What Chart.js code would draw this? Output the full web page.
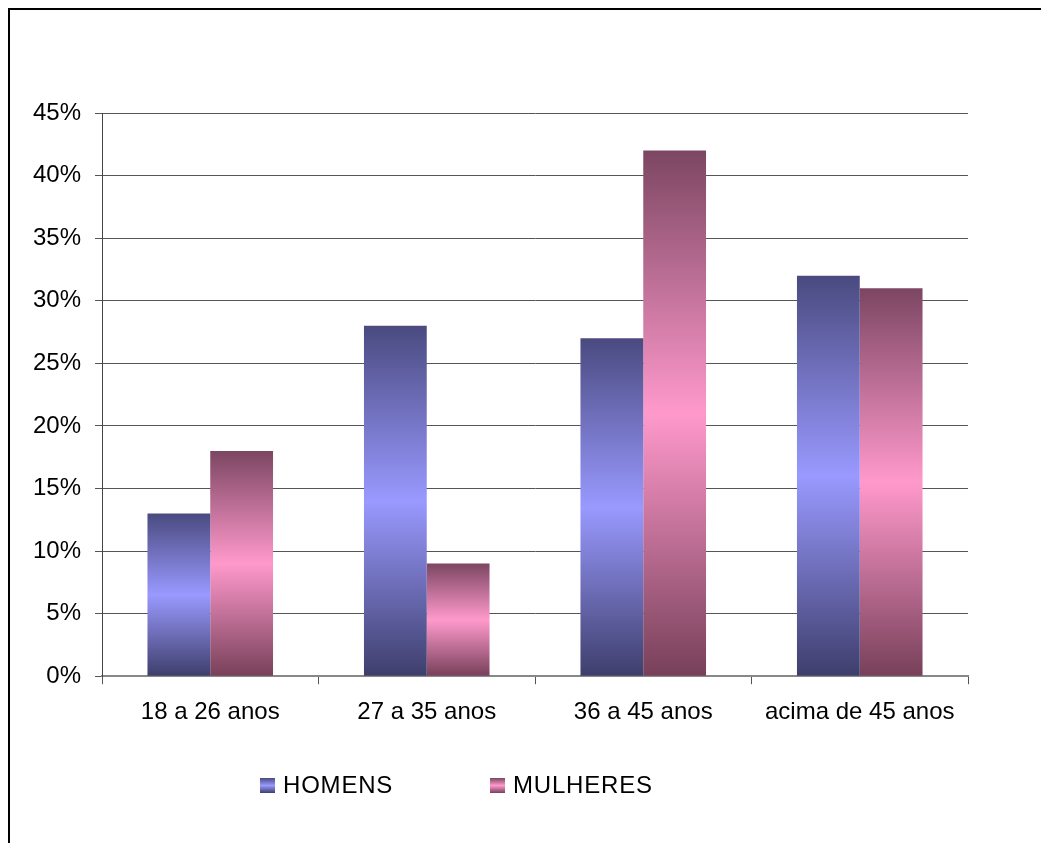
<!DOCTYPE html>
<html>
<head>
<meta charset="utf-8">
<script src="https://cdn.jsdelivr.net/npm/chart.js"></script>
<style>
    html, body { margin: 0; padding: 0; background: #fff; overflow: hidden; }
    body { width: 1041px; height: 843px; position: relative; font-family: "Liberation Sans", Arial, sans-serif; }
    #frame { position: absolute; left: 8px; top: 8px; width: 1100px; height: 900px; border-left: 2px solid #000; border-top: 2px solid #000; }
    #wrap { position: absolute; left: 0; top: 0; width: 1041px; height: 843px; }
    #legend { position: absolute; top: 771px; left: 0; height: 30px; }
    .legend-item { position: absolute; top: 0; display: flex; align-items: center; white-space: nowrap; font-size: 24px; letter-spacing: 0.8px; color: #000; }
    .legend-box { width: 15px; height: 15px; margin-right: 8px; }
</style>
</head>
<body>
<div id="frame"></div>
<div id="wrap"><canvas id="ageChart" width="1041" height="843"></canvas></div>
<div id="legend"></div>

<script>
// Chart data
const categories = ['18 a 26 anos', '27 a 35 anos', '36 a 45 anos', 'acima de 45 anos'];
const homens = [13, 28, 27, 32];
const mulheres = [18, 9, 42, 31];
const seriesNames = ['HOMENS', 'MULHERES'];

// Colours for the shaded bars: edge, centre, edge
const homensShade = ['#4a4a80', '#9999ff', '#3e3e6c'];
const mulheresShade = ['#7c4662', '#ff99cc', '#774059'];

document.addEventListener('DOMContentLoaded', function() {
    initAgeChart();
    buildLegend();
});

/**
 * Vertical gradient for one bar, dark at top and bottom, light in the middle
 */
function barGradient(shade) {
    return function(context) {
        const chart = context.chart;
        if (!chart.chartArea || context.raw === undefined) return shade[1];
        const y = chart.scales.y;
        const top = y.getPixelForValue(context.raw);
        const base = y.getPixelForValue(0);
        if (!isFinite(top) || !isFinite(base) || top === base) return shade[1];
        const g = chart.ctx.createLinearGradient(0, top, 0, base);
        g.addColorStop(0, shade[0]);
        g.addColorStop(0.5, shade[1]);
        g.addColorStop(1, shade[2]);
        return g;
    };
}

function initAgeChart() {
    const ctx = document.getElementById('ageChart');
    const font = { family: '"Liberation Sans", Arial, sans-serif', size: 24 };

    new Chart(ctx, {
        type: 'bar',
        data: {
            labels: categories,
            datasets: [
                {
                    label: seriesNames[0],
                    data: homens,
                    backgroundColor: barGradient(homensShade),
                    borderWidth: 0
                },
                {
                    label: seriesNames[1],
                    data: mulheres,
                    backgroundColor: barGradient(mulheresShade),
                    borderWidth: 0
                }
            ]
        },
        options: {
            responsive: false,
            animation: false,
            layout: {
                padding: { top: 113, right: 73, bottom: 102, left: 0 }
            },
            plugins: {
                legend: { display: false },
                tooltip: { enabled: false }
            },
            datasets: {
                bar: { categoryPercentage: 0.58, barPercentage: 1 }
            },
            scales: {
                x: {
                    grid: {
                        offset: true,
                        drawOnChartArea: false,
                        drawTicks: true,
                        tickLength: 8,
                        color: '#555'
                    },
                    border: { color: '#888', width: 2 },
                    ticks: { color: '#000', font: font, padding: 14, maxRotation: 0 }
                },
                y: {
                    min: 0,
                    max: 45,
                    afterFit: function(scale) { scale.width = 102; },
                    ticks: {
                        stepSize: 5,
                        color: '#000',
                        font: font,
                        padding: 14,
                        callback: function(value) { return value + '%'; }
                    },
                    grid: { color: '#555', lineWidth: 1, tickLength: 7 },
                    border: { color: '#444', width: 1 }
                }
            }
        }
    });
}

/**
 * HTML legend placed where the original had it
 */
function buildLegend() {
    const legend = document.getElementById('legend');
    const shades = [homensShade, mulheresShade];
    const lefts = [260, 490];
    seriesNames.forEach((name, i) => {
        const item = document.createElement('div');
        item.className = 'legend-item';
        item.style.left = lefts[i] + 'px';
        const box = document.createElement('span');
        box.className = 'legend-box';
        box.style.background = 'linear-gradient(' + shades[i][0] + ', ' + shades[i][1] + ', ' + shades[i][2] + ')';
        const text = document.createElement('span');
        text.textContent = name;
        item.appendChild(box);
        item.appendChild(text);
        legend.appendChild(item);
    });
}
</script>
</body>
</html>
